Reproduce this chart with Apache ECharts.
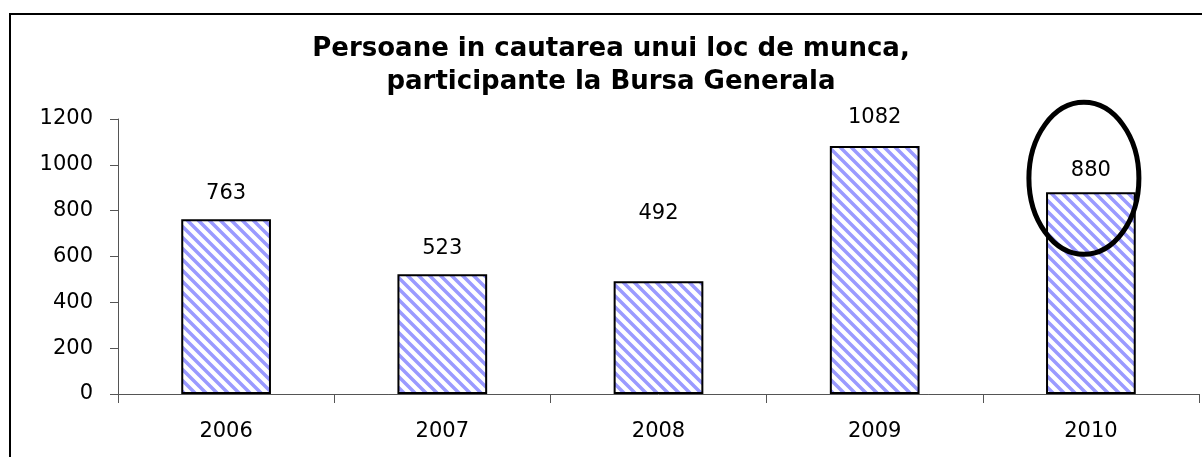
<!DOCTYPE html>
<html>
<head>
<meta charset="utf-8">
<script src="https://cdn.jsdelivr.net/npm/echarts@6/dist/echarts.min.js"></script>
<style>
  html, body { margin: 0; padding: 0; background: #fff; }
  #chart { width: 1202px; height: 457px; }
</style>
</head>
<body>
<div id="chart"></div>
<script>
const years = ['2006', '2007', '2008', '2009', '2010'];
const persons = [763, 523, 492, 1082, 880];
// extra lift of the value label above each bar (px), as placed in the original
const labelLift = [0, 0, 42, 3, -4];
const yTicks = { min: 0, max: 1200, step: 200 };

function hatch() {
    const size = 11;
    const c = document.createElement('canvas');
    c.width = size;
    c.height = size;
    const ctx = c.getContext('2d');
    ctx.fillStyle = '#fff';
    ctx.fillRect(0, 0, size, size);
    ctx.strokeStyle = '#9a9aff';
    ctx.lineWidth = 3.5;
    ctx.beginPath();
    ctx.moveTo(-size, 0); ctx.lineTo(size, 2 * size);
    ctx.moveTo(0, 0); ctx.lineTo(size, size);
    ctx.moveTo(0, -size); ctx.lineTo(2 * size, size);
    ctx.stroke();
    return c;
}

const chart = echarts.init(document.getElementById('chart'));
const font = 'DejaVu Sans, Liberation Sans, sans-serif';

chart.setOption({
    animation: false,
    title: {
        text: 'Persoane in cautarea unui loc de munca,\nparticipante la Bursa Generala',
        left: 606,
        top: 28,
        textAlign: 'center',
        textStyle: { fontFamily: font, fontSize: 26, fontWeight: 'bold', color: '#000', lineHeight: 33 },
    },
    grid: { left: 118, right: 3, top: 119, bottom: 63 },
    xAxis: {
        type: 'category',
        data: years,
        axisLine: { lineStyle: { color: '#555', width: 1 } },
        axisTick: { show: true, length: 9, lineStyle: { color: '#555' } },
        axisLabel: { fontFamily: font, fontSize: 21, color: '#000', margin: 27 },
    },
    yAxis: {
        type: 'value',
        min: yTicks.min,
        max: yTicks.max,
        interval: yTicks.step,
        splitLine: { show: false },
        axisLine: { show: true, lineStyle: { color: '#555', width: 1 } },
        axisTick: { show: true, length: 8, lineStyle: { color: '#555' } },
        axisLabel: { fontFamily: font, fontSize: 21, color: '#000', margin: 25, formatter: (v) => String(v) },
    },
    series: [{
        type: 'bar',
        barWidth: '41.5%',
        data: persons.map((v, i) => ({
            value: v,
            label: { offset: [0, -labelLift[i]] },
        })),
        itemStyle: {
            color: { image: hatch(), repeat: 'repeat' },
            borderColor: '#000',
            borderWidth: 2,
        },
        label: {
            show: true,
            position: 'top',
            distance: 15,
            fontFamily: font,
            fontSize: 21,
            color: '#000',
        },
    }],
});

// outer frame and the highlight ellipse around the last bar
const top2010 = chart.convertToPixel({ seriesIndex: 0 }, ['2010', persons[4]]);
chart.setOption({
    graphic: [
        {
            type: 'polyline',
            shape: { points: [[10, 457], [10, 14], [1202, 14]] },
            style: { stroke: '#000', lineWidth: 2, fill: null },
            silent: true,
        },
        {
            type: 'ellipse',
            shape: { cx: top2010[0] - 7, cy: top2010[1] - 14, rx: 55, ry: 76 },
            style: { stroke: '#000', lineWidth: 5, fill: null },
            z: 100,
            silent: true,
        },
    ],
});
</script>
</body>
</html>
